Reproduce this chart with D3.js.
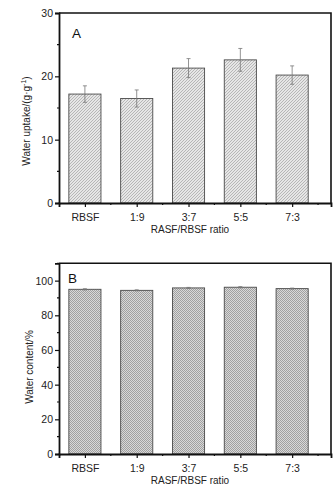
<!DOCTYPE html>
<html>
<head>
<meta charset="utf-8">
<script src="https://cdn.jsdelivr.net/npm/d3@7"></script>
<style>
  body { margin: 0; background: #fff; }
  svg { display: block; font-family: "Liberation Sans", Arial, sans-serif; }
</style>
</head>
<body>
<div class="chart"></div>
<script>
// data
const categories = ["RBSF", "1:9", "3:7", "5:5", "7:3"]
const uptake = [17.2, 16.5, 21.3, 22.6, 20.2]
const uptakeErr = [1.3, 1.35, 1.5, 1.8, 1.45]
const content = [95.0, 94.4, 95.8, 96.2, 95.4]
const contentErr = [0.35, 0.3, 0.3, 0.35, 0.3]
const uptakeTicks = [0, 10, 20, 30]
const contentTicks = [0, 20, 40, 60, 80, 100]

const w = 333
const h = 494

const svg = d3.select(".chart")
    .append("svg")
    .attr("width", w)
    .attr("height", h)

const defs = svg.append("defs")

// diagonal hatch for panel A
const hatch = defs.append("pattern")
    .attr("id", "hatch")
    .attr("patternUnits", "userSpaceOnUse")
    .attr("width", 3)
    .attr("height", 3)
hatch.append("rect").attr("width", 3).attr("height", 3).attr("fill", "#e6e6e6")
hatch.append("path")
    .attr("d", "M-1,1 l2,-2 M0,3 l3,-3 M2,4 l2,-2")
    .attr("stroke", "#a2a2a2")
    .attr("stroke-width", 0.7)

// fine checker for panel B
const check = defs.append("pattern")
    .attr("id", "check")
    .attr("patternUnits", "userSpaceOnUse")
    .attr("width", 2)
    .attr("height", 2)
check.append("rect").attr("width", 2).attr("height", 2).attr("fill", "#d8d8d8")
check.append("rect").attr("width", 1).attr("height", 1).attr("fill", "#a0a0a0")
check.append("rect").attr("x", 1).attr("y", 1).attr("width", 1).attr("height", 1).attr("fill", "#a0a0a0")

function drawPanel(cfg) {
    const left = 59, right = 331
    const g = svg.append("g")

    const x = d3.scaleLinear().domain([0.5, 5.75]).range([left, right])
    const y = d3.scaleLinear().domain([0, cfg.max]).range([cfg.bottom, cfg.top])
    const half = 0.31

    // bars
    g.selectAll("rect.bar")
        .data(cfg.values)
        .join("rect")
        .attr("class", "bar")
        .attr("x", (d, i) => x(i + 1 - half))
        .attr("width", (d, i) => x(i + 1 + half) - x(i + 1 - half))
        .attr("y", d => y(d))
        .attr("height", d => y(0) - y(d))
        .attr("fill", `url(#${cfg.pattern})`)
        .attr("stroke", "#4a4a4a")
        .attr("stroke-width", 0.9)

    // error bars
    const eb = g.selectAll("g.err")
        .data(cfg.values.map((v, i) => [v, cfg.errors[i], i]))
        .join("g")
        .attr("class", "err")
        .attr("stroke", "#777")
        .attr("stroke-width", 0.8)
    eb.append("line")
        .attr("x1", d => x(d[2] + 1)).attr("x2", d => x(d[2] + 1))
        .attr("y1", d => y(d[0] + d[1])).attr("y2", d => y(d[0] - d[1]))
    eb.append("line")
        .attr("x1", d => x(d[2] + 1) - 2).attr("x2", d => x(d[2] + 1) + 2)
        .attr("y1", d => y(d[0] + d[1])).attr("y2", d => y(d[0] + d[1]))
    eb.append("line")
        .attr("x1", d => x(d[2] + 1) - 2).attr("x2", d => x(d[2] + 1) + 2)
        .attr("y1", d => y(d[0] - d[1])).attr("y2", d => y(d[0] - d[1]))

    // frame (top and right)
    g.append("path")
        .attr("d", `M${left},${cfg.top}H${right}V${cfg.bottom}`)
        .attr("fill", "none")
        .attr("stroke", "#111")
        .attr("stroke-width", 1.6)

    // left axis
    const yAxis = g.append("g")
        .attr("transform", `translate(${left},0)`)
        .call(d3.axisLeft(y).tickValues(cfg.ticks).tickSize(4).tickPadding(2))
    const minorY = d3.range(cfg.ticks[1] / 2, cfg.max + 0.01, cfg.ticks[1])
    yAxis.selectAll(".minor")
        .data(minorY)
        .join("line")
        .attr("class", "minor")
        .attr("x1", -2).attr("x2", 0)
        .attr("y1", d => y(d)).attr("y2", d => y(d))
        .attr("stroke", "#111")
        .attr("stroke-width", 1.2)

    // bottom axis
    const xAxis = g.append("g")
        .attr("transform", `translate(0,${cfg.bottom})`)
        .call(d3.axisBottom(x).tickValues([1, 2, 3, 4, 5])
            .tickFormat((d, i) => categories[i]).tickSize(4).tickPadding(7))
    xAxis.selectAll(".minor")
        .data([1.5, 2.5, 3.5, 4.5, 5.5])
        .join("line")
        .attr("class", "minor")
        .attr("y1", 0).attr("y2", 2)
        .attr("x1", d => x(d)).attr("x2", d => x(d))
        .attr("stroke", "#111")
        .attr("stroke-width", 1.2)

    svg.selectAll(".domain").attr("stroke", "#111").attr("stroke-width", 1.8)
    svg.selectAll(".tick line").attr("stroke", "#111").attr("stroke-width", 1.2)
    svg.selectAll(".tick text")
        .attr("font-size", 10.5)
        .attr("font-family", "Liberation Sans, Arial, sans-serif")
        .attr("fill", "#222")

    // panel letter
    g.append("text")
        .attr("x", cfg.letterX)
        .attr("y", cfg.letterY)
        .attr("font-size", 13.5)
        .attr("fill", "#111")
        .text(cfg.letter)

    // x title
    g.append("text")
        .attr("x", 190)
        .attr("y", cfg.bottom + 30)
        .attr("text-anchor", "middle")
        .attr("font-size", 10)
        .attr("fill", "#222")
        .text("RASF/RBSF ratio")

    // y title
    const yt = g.append("text")
        .attr("transform", `translate(${cfg.ylabX},${cfg.ylabY}) rotate(-90)`)
        .attr("text-anchor", "middle")
        .attr("font-size", 10)
        .attr("fill", "#222")
    cfg.ylabel(yt)
}

drawPanel({
    top: 13, bottom: 203, max: 30,
    values: uptake, errors: uptakeErr, ticks: uptakeTicks,
    pattern: "hatch", letter: "A", letterX: 72, letterY: 38,
    ylabX: 30, ylabY: 121,
    ylabel: t => {
        t.append("tspan").text("Water uptake/(g·g")
        t.append("tspan").attr("font-size", 7).attr("dy", -4).text("-1")
        t.append("tspan").attr("dy", 4).text(")")
    }
})

drawPanel({
    top: 263.3, bottom: 454, max: 110,
    values: content, errors: contentErr, ticks: contentTicks,
    pattern: "check", letter: "B", letterX: 68, letterY: 283,
    ylabX: 33, ylabY: 367,
    ylabel: t => t.text("Water content/%")
})
</script>
</body>
</html>
